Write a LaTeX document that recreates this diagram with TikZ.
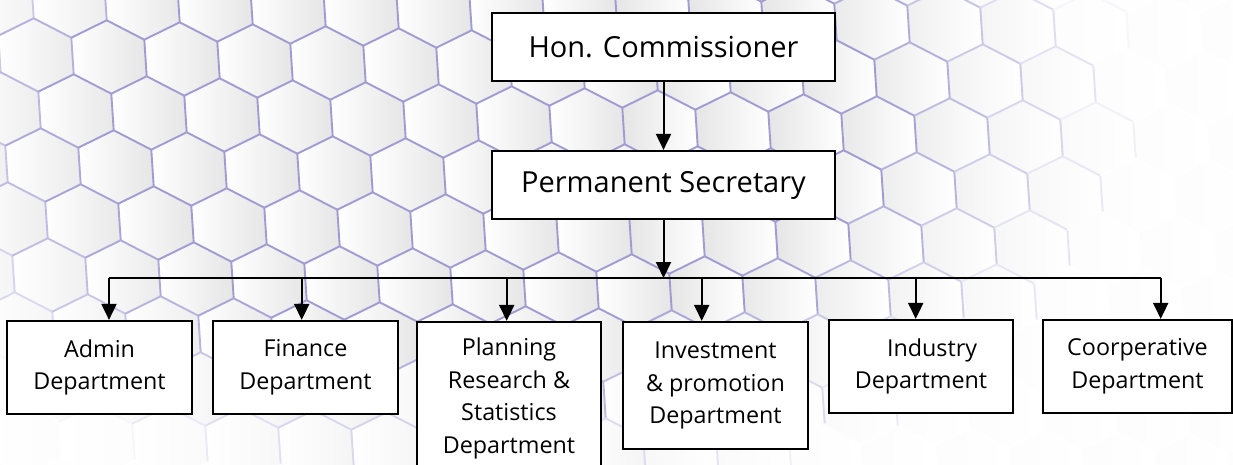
\documentclass[tikz,border=0pt]{standalone}
\usepackage{fontspec}
\setmainfont{Open Sans}
\usetikzlibrary{arrows.meta}
\definecolor{hexlav}{RGB}{160,155,210}
\tikzset{
  orgbox/.style={draw=black, line width=2.2pt, fill=white, align=center, inner sep=0pt, text=black},
  topbox/.style={orgbox, minimum width=343pt, minimum height=68pt, font=\fontsize{29}{35}\selectfont},
  deptbox/.style={orgbox, font=\fontsize{23.3}{32.7}\selectfont},
  conn/.style={line width=2pt, draw=black},
  arr/.style={conn, -{Triangle[width=15pt,length=16pt]}},
  hexedge/.style={line width=1.9pt, line join=round},
}
\newcommand{\hexcalc}[2]{%
  \pgfmathsetmacro\cx{368+73*#1-33*#2}%
  \pgfmathsetmacro\cy{119+2*#1+54*#2}%
  \pgfmathtruncatemacro\inside{(\cx>-60)&&(\cx<1300)}%
  \pgfmathsetmacro\ux{(\cx-470)/560}%
  \pgfmathsetmacro\uy{(\cy-130)/330}%
  \pgfmathsetmacro\dd{sqrt(\ux*\ux+\uy*\uy)}%
  \pgfmathtruncatemacro\ff{100*max(0,min(1,(1.2-\dd)/0.5))}%
}
\begin{document}
\begin{tikzpicture}[x=1pt,y=-1pt]
\useasboundingbox (0,0) rectangle (1233,465);
% background
\fill[white] (0,0) rectangle (1233,465);
\begin{scope}
\clip (0,0) rectangle (1233,465);
\foreach \j in {-3,...,8}{
  \foreach \i in {-8,...,17}{
    \hexcalc{\i}{\j}
    \ifnum\inside=1
      \pgfmathtruncatemacro\gg{1+9*\ff/100}
      \pgfmathtruncatemacro\gl{\cx<650 ? 0 : \gg}
      \pgfmathtruncatemacro\gr{\cx<650 ? \gg : 0}
      \shade[left color=black!\gl, right color=black!\gr]
        (\cx+37.7,\cy+19.3) -- (\cx+2.3,\cy+36.7) -- (\cx-35.3,\cy+17.3) --
        (\cx-37.7,\cy-19.3) -- (\cx-2.3,\cy-36.7) -- (\cx+35.3,\cy-17.3) -- cycle;
    \fi
  }
}
\foreach \j in {-3,...,8}{
  \foreach \i in {-8,...,17}{
    \hexcalc{\i}{\j}
    \ifnum\inside=1
      \draw[hexedge, draw=hexlav!\ff!white]
        (\cx-37.7,\cy-19.3) -- (\cx-2.3,\cy-36.7) -- (\cx+35.3,\cy-17.3) -- (\cx+37.7,\cy+19.3);
    \fi
  }
}
\end{scope}
% boxes
\node[topbox] (hon) at (663.5,47) {Hon. Commissioner};
\node[topbox] (perm) at (663.5,185) {Permanent Secretary};
\node[deptbox, minimum width=185pt, minimum height=93pt] (admin) at (99.5,367.5) {Admin\\Department};
\node[deptbox, minimum width=185pt, minimum height=93pt] (fin) at (305.5,367.5) {Finance\\Department};
\node[deptbox, minimum width=184pt, minimum height=153pt] (plan) at (509,398.5) {Planning\\Research \&\\Statistics\\Department};
\node[deptbox, minimum width=185pt, minimum height=127pt] (inv) at (715.5,385.5) {Investment\\\& promotion\\Department};
\node[deptbox, minimum width=184pt, minimum height=93pt] (ind) at (921,366.5) {\hspace*{22pt}Industry\\Department};
\node[deptbox, minimum width=189pt, minimum height=93pt] (coop) at (1137.5,366.5) {Coorperative\\Department};
% bus
\coordinate (c1) at (109,278);
\coordinate (c2) at (301.7,278);
\coordinate (c3) at (506.7,278);
\coordinate (c4) at (701.7,278);
\coordinate (c5) at (915.7,278);
\coordinate (c6) at (1160.7,278);
\draw[arr] (hon.south) -- (perm.north);
\draw[conn] (c1) -- (c6);
\draw[arr] (perm.south) -- (perm.south |- c1);
\draw[arr] (c1) -- (admin.north -| c1);
\draw[arr] (c2) -- (fin.north -| c2);
\draw[arr] (c3) -- (plan.north -| c3);
\draw[arr] (c4) -- (inv.north -| c4);
\draw[arr] (c5) -- (ind.north -| c5);
\draw[arr] (c6) -- (coop.north -| c6);
\end{tikzpicture}
\end{document}
